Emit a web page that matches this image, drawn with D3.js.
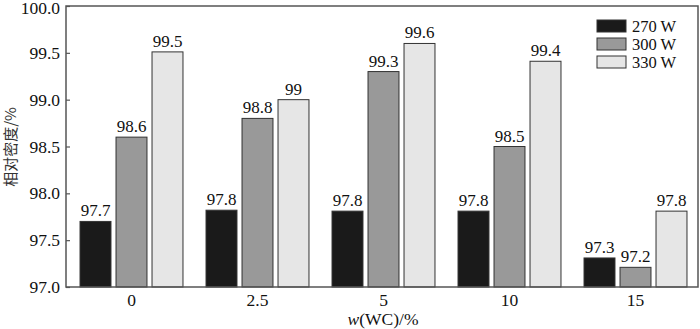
<!DOCTYPE html>
<html><head><meta charset="utf-8">
<script src="https://cdn.jsdelivr.net/npm/d3@7"></script>
<style>body{margin:0;background:#fff}svg{display:block}</style>
</head><body><svg id="c" width="700" height="329"></svg>
<script>
const categories = ["0","2.5","5","10","15"];
const seriesNames = ["270 W","300 W","330 W"];
const s270 = [97.7, 97.82, 97.81, 97.81, 97.31];
const s300 = [98.6, 98.8, 99.3, 98.5, 97.21];
const s330 = [99.51, 99.0, 99.6, 99.41, 97.81];
const lbl270 = ["97.7","97.8","97.8","97.8","97.3"];
const lbl300 = ["98.6","98.8","99.3","98.5","97.2"];
const lbl330 = ["99.5","99","99.6","99.4","97.8"];
const yTicks = [97.0,97.5,98.0,98.5,99.0,99.5,100.0];
const colors = ["#1a1a1a","#999999","#e6e6e6"];

const values = [s270, s300, s330];
const labels = [lbl270, lbl300, lbl330];
const svg = d3.select("#c");
const L=66, R=698, T=6, B=287;
const font = "'Liberation Serif','Times New Roman',serif";
const x0 = d3.scaleBand().domain(categories).range([L+2.5,R+0.5]);
const x1 = d3.scaleBand().domain(seriesNames).range([-54,54]).paddingInner(0.14).paddingOuter(0.07);
const y = d3.scaleLinear().domain([97,100]).range([B,T]);

// bars
seriesNames.forEach((s,si)=>{
  categories.forEach((c,ci)=>{
    const cx = x0(c)+x0.bandwidth()/2;
    const bx = cx + x1(s);
    svg.append("rect").attr("x",bx).attr("y",y(values[si][ci]))
      .attr("width",x1.bandwidth()).attr("height",B-y(values[si][ci]))
      .attr("fill",colors[si]).attr("stroke","#333").attr("stroke-width",1);
    svg.append("text").attr("x",bx+x1.bandwidth()/2).attr("y",y(values[si][ci])-5)
      .attr("text-anchor","middle").attr("font-family",font).attr("font-size",17)
      .attr("fill","#111").text(labels[si][ci]);
  });
});

// frame
svg.append("rect").attr("x",L).attr("y",T).attr("width",R-L).attr("height",B-T)
  .attr("fill","none").attr("stroke","#555").attr("stroke-width",1.5);

// y axis
const ya = svg.append("g").attr("transform",`translate(${L},0)`)
  .call(d3.axisLeft(y).tickValues(yTicks).tickFormat(d3.format(".1f")).tickSizeInner(-4).tickSizeOuter(0).tickPadding(6));
ya.select(".domain").remove();
ya.selectAll("line").attr("stroke","#555").attr("stroke-width",1.2);
ya.selectAll("text").attr("font-family",font).attr("font-size",17.5).attr("fill","#111");
ya.selectAll(".tick").filter(d=>d===100).select("text").attr("dy","0.45em");

// x axis
const xa = svg.append("g").attr("transform",`translate(0,${B})`)
  .call(d3.axisBottom(x0).tickSize(0).tickPadding(7));
xa.select(".domain").remove();
xa.selectAll("text").attr("font-family",font).attr("font-size",17.5).attr("fill","#111");

// axis titles
const xt = svg.append("text").attr("x",383).attr("y",325).attr("text-anchor","middle")
  .attr("font-family",font).attr("font-size",17.5).attr("fill","#111");
xt.append("tspan").attr("font-style","italic").text("w");
xt.append("tspan").text("(WC)/%");
svg.append("text").attr("transform","translate(11,147) rotate(-90)").attr("text-anchor","middle")
  .attr("dy","0.35em")
  .attr("font-family","'Noto Sans CJK SC',sans-serif").attr("font-size",15).attr("fill","#333").text("相对密度/%");

// legend
seriesNames.forEach((s,i)=>{
  const ly = 26 + i*18;
  svg.append("rect").attr("x",597).attr("y",ly-6).attr("width",29).attr("height",12)
    .attr("fill",colors[i]).attr("stroke","#333").attr("stroke-width",1);
  svg.append("text").attr("x",632).attr("y",ly+5.5).attr("font-family",font).attr("font-size",16.5)
    .attr("fill","#111").text(s);
});
</script></body></html>
